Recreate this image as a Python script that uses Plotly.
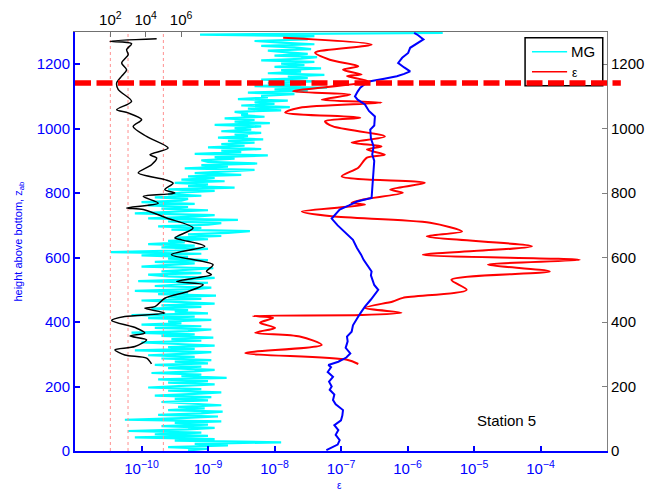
import numpy as np
import plotly.graph_objects as go

# ---------------- data ----------------
# MG profile (log10 values on the epsilon axis), one value every 5 m from the bottom
mg_log10 = [
    -9.3, -9.0, -9.6, -8.7, -9.2, -7.9, -9.5, -8.9, -10.1, -9.0,
    -9.8, -9.1, -10.2, -9.3, -8.9, -9.7, -9.0, -9.5, -8.8, -10.25,
    -9.4, -8.85, -9.75, -9.1, -8.78, -9.6, -9.05, -9.45, -8.8, -9.3,
    -9.7, -9.0, -9.5, -8.95, -9.8, -9.2, -8.8, -9.6, -9.1, -9.9,
    -9.3, -8.9, -9.6, -9.0, -9.75, -8.72, -9.4, -9.1, -9.85, -9.2,
    -8.9, -9.6, -9.1, -9.8, -9.0, -9.5, -8.95, -9.7, -9.2, -9.9,
    -9.3, -8.95, -10.1, -9.2, -9.6, -8.9, -9.45, -10.0, -9.1, -9.55,
    -8.92, -9.7, -9.2, -10.15, -9.3, -8.95, -9.8, -9.1, -10.0, -9.4,
    -9.6, -8.95, -9.9, -9.2, -10.15, -9.0, -9.5, -9.3, -9.85, -9.1,
    -9.7, -8.9, -9.4, -10.0, -9.1, -9.6, -8.88, -9.75, -9.3, -10.1,
    -9.2, -8.95, -9.8, -9.4, -9.0, -10.05, -9.3, -8.9, -9.6, -9.9,
    -9.1, -9.7, -9.3, -8.92, -10.0, -9.5, -9.2, -9.8, -9.0, -9.6,
    -9.3, -10.0, -9.1, -10.46, -9.5, -9.0, -9.7, -9.2, -9.9, -9.35,
    -9.6, -9.0, -9.5, -8.8, -9.3, -8.7, -8.37, -9.55, -9.1, -9.75,
    -9.0, -8.8, -9.6, -8.55, -9.9, -9.2, -8.9, -10.1, -9.4, -9.0,
    -9.7, -9.3, -9.9, -9.2, -10.0, -9.4, -9.3, -9.8, -9.1, -9.6,
    -9.4, -8.9, -9.6, -8.6, -9.3, -9.0, -9.5, -8.75, -9.4, -8.9,
    -9.3, -8.5, -9.2, -8.8, -8.3, -9.35, -8.7, -9.1, -8.26, -9.0,
    -9.1, -8.6, -8.9, -8.1, -9.2, -8.5, -8.8, -8.2, -9.0, -8.45,
    -8.8, -8.3, -8.7, -8.17, -8.85, -8.4, -8.6, -8.2, -8.8, -8.35,
    -8.6, -8.2, -8.9, -8.07, -8.6, -8.3, -8.75, -8.15, -8.5, -8.4,
    -8.6, -7.9, -8.4, -7.77, -8.5, -8.0, -8.3, -7.8, -8.55, -8.1,
    -8.2, -7.7, -8.4, -7.5, -8.0, -7.21, -8.3, -7.6, -8.1, -7.4,
    -8.2, -7.5, -7.8, -7.25, -8.1, -7.6, -7.9, -7.3, -8.0, -7.55,
    -7.9, -7.4, -8.2, -7.6, -7.36, -8.0, -7.5, -7.8, -8.1, -7.45,
    -7.7, -8.2, -7.4, -7.9, -8.3, -7.5, -7.8, -7.4, -9.12, -5.47,
]
mg_step_m = 5

# epsilon profile: (height, log10 epsilon)
eps_height = [1282, 1261, 1236, 1214, 1194, 1183, 1168, 1163, 1147, 1116, 1106, 1090,
              1081, 1065, 1050, 1034, 1023, 1007, 976, 957, 945, 935, 919, 910, 879,
              852, 832, 811, 801, 780, 770, 764, 743, 728, 708, 681, 666, 635, 609,
              593, 578, 557, 531, 500, 475, 464, 444, 429, 422, 419, 413, 398, 382,
              367, 355, 329, 304, 283, 270]
eps_log10 = [-7.87, -6.54, -7.39, -7.17, -6.74, -6.97, -6.69, -6.91, -6.59, -7.72, -6.86,
             -7.29, -6.39, -7.62, -7.84, -6.71, -7.24, -7.12, -6.34, -6.84, -6.39, -6.61,
             -6.34, -6.61, -6.74, -6.99, -5.74, -6.26, -6.07, -6.67, -6.84, -6.64, -7.59,
             -7.14, -5.66, -5.18, -5.71, -4.13, -5.77, -3.41, -4.79, -3.86, -5.34, -5.11,
             -6.07, -6.22, -6.64, -6.09, -6.69, -8.32, -8.02, -8.22, -7.99, -8.29, -7.62,
             -7.29, -8.44, -6.91, -6.74]

# blue profile: (height, log10 value on the epsilon axis)
blue_height = [3, 20, 34, 50, 65, 80, 95, 110, 127, 145, 158, 175, 190, 200, 215, 230, 245,
               260, 267, 277, 290, 303, 320, 340, 355, 370, 390, 405, 417, 430, 448, 470,
               485, 500, 515, 530, 545, 557, 575, 593, 610, 630, 655, 680, 700, 721, 735,
               749, 762, 774, 785, 810, 840, 873, 900, 920, 945, 970, 997, 1010, 1038,
               1055, 1075, 1090, 1100, 1115, 1127, 1140, 1147, 1155, 1163, 1170, 1178,
               1190, 1204, 1220, 1235, 1251, 1265, 1277, 1290, 1297]
blue_log10 = [-7.22, -7.05, -7.02, -7.08, -7.04, -7.10, -7.00, -6.98, -6.97, -7.08, -7.12,
              -7.10, -7.17, -7.14, -7.18, -7.12, -7.20, -7.15, -7.19, -7.04, -6.92, -6.86,
              -6.93, -6.90, -6.91, -6.84, -6.82, -6.78, -6.74, -6.70, -6.64, -6.55, -6.50,
              -6.44, -6.50, -6.52, -6.55, -6.54, -6.60, -6.66, -6.70, -6.76, -6.82, -6.95,
              -7.05, -7.14, -7.08, -7.02, -6.88, -6.76, -6.54, -6.53, -6.52, -6.51, -6.50,
              -6.53, -6.51, -6.55, -6.56, -6.50, -6.49, -6.58, -6.64, -6.75, -6.79, -6.75,
              -6.71, -6.63, -6.56, -6.35, -6.16, -6.05, -5.96, -6.05, -6.14, -6.08, -5.99,
              -5.96, -5.85, -5.76, -5.84, -5.90]

# black profile on the top axis: (height, log10 value)
black_height = [1279, 1271, 1264, 1245, 1230, 1204, 1183, 1163, 1142, 1121, 1085, 1059,
                1049, 1028, 1007, 976, 940, 919, 909, 888, 863, 842, 831, 811, 800, 790,
                769, 754, 749, 723, 692, 661, 655, 635, 609, 578, 557, 547, 526, 516, 495,
                474, 448, 443, 428, 417, 405, 381, 366, 357, 345, 324, 314, 298, 288, 270]
black_log10 = [4.62, 1.98, 3.20, 2.92, 3.01, 2.64, 2.92, 2.64, 2.36, 2.45, 3.20, 2.36,
               3.01, 3.77, 3.29, 4.05, 5.27, 4.24, 4.62, 4.33, 3.58, 5.08, 5.55, 5.08,
               5.65, 3.86, 4.71, 2.92, 3.86, 5.18, 6.68, 5.65, 6.03, 7.34, 5.46, 7.81,
               7.44, 7.72, 5.75, 7.25, 6.40, 5.08, 4.52, 3.95, 5.08, 2.82, 2.07, 3.49,
               3.95, 3.11, 4.05, 3.39, 2.26, 2.82, 4.05, 4.33]

bottom_tick_exp = [-10, -9, -8, -7, -6, -5, -4]
top_tick_exp = [2, 4, 6]
ref_lines_top = [1e2, 1e3, 1e5]
height_ticks = [0, 200, 400, 600, 800, 1000, 1200]
mixed_layer_top = 1142
station_label = "Station 5"
legend_names = ["MG", "ε"]

# ---------------- figure ----------------
FONT = "Liberation Sans, Arial, sans-serif"
BLUE = "#0000ff"
CYAN = "#00ffff"
RED = "#ff0000"

mg_height = [i * mg_step_m + 2 for i in range(len(mg_log10))]

fig = go.Figure()

for v in ref_lines_top:
    fig.add_trace(go.Scatter(x=[v, v], y=[0, 1300], xaxis="x2", yaxis="y", mode="lines",
                             line=dict(color="#ff9090", width=1, dash="dot"),
                             showlegend=False, hoverinfo="skip"))

fig.add_trace(go.Scatter(x=[10 ** v for v in mg_log10], y=mg_height, mode="lines",
                         name=legend_names[0], showlegend=False,
                         line=dict(color=CYAN, width=2.2)))
fig.add_trace(go.Scatter(x=[10 ** v for v in eps_log10], y=eps_height, mode="lines",
                         name=legend_names[1], showlegend=False,
                         line=dict(color=RED, width=2, shape="spline", smoothing=0.8)))
fig.add_trace(go.Scatter(x=[10 ** v for v in black_log10], y=black_height, xaxis="x2",
                         yaxis="y", mode="lines", showlegend=False,
                         line=dict(color="#000000", width=1.5, shape="spline", smoothing=0.8)))
fig.add_trace(go.Scatter(x=[10 ** v for v in blue_log10], y=blue_height, xaxis="x",
                         yaxis="y2", mode="lines", showlegend=False,
                         line=dict(color=BLUE, width=2)))

# legend box drawn by hand (MATLAB style), the dashed line passes over it
fig.add_shape(type="rect", xref="paper", yref="paper", x0=0.846, x1=0.992,
              y0=0.872, y1=0.986, fillcolor="white",
              line=dict(color="black", width=1.5), layer="above")
fig.add_shape(type="line", xref="paper", yref="paper", x0=0.859, x1=0.925,
              y0=0.953, y1=0.953, line=dict(color=CYAN, width=1.5), layer="above")
fig.add_shape(type="line", xref="paper", yref="paper", x0=0.859, x1=0.925,
              y0=0.905, y1=0.905, line=dict(color=RED, width=1.5), layer="above")
fig.add_annotation(text=legend_names[0], xref="paper", yref="paper", x=0.929, y=0.953,
                   xanchor="left", yanchor="middle", showarrow=False,
                   font=dict(family=FONT, size=15, color="black"))
fig.add_annotation(text=legend_names[1], xref="paper", yref="paper", x=0.931, y=0.903,
                   xanchor="left", yanchor="middle", showarrow=False,
                   font=dict(family=FONT, size=12, color="black"))

fig.add_shape(type="line", xref="paper", yref="y", x0=0, x1=1.026,
              y0=mixed_layer_top, y1=mixed_layer_top,
              line=dict(color=RED, width=5.5, dash="16px,5.5px"), layer="above")

fig.add_annotation(text=station_label, xref="paper", yref="y", x=0.812, y=96,
                   xanchor="center", yanchor="middle", showarrow=False,
                   font=dict(family=FONT, size=15, color="black"))
fig.add_annotation(text="height above bottom, z<sub>ab</sub>", xref="paper", yref="paper",
                   x=-0.107, y=0.5, xanchor="center", yanchor="middle", textangle=-90,
                   showarrow=False, font=dict(family=FONT, size=11, color=BLUE))
fig.add_annotation(text="ε", xref="paper", yref="paper", x=0.498, y=-0.0835,
                   xanchor="center", yanchor="middle", showarrow=False,
                   font=dict(family=FONT, size=10, color=BLUE))


def pow_labels(exps):
    return ["10<sup>%s</sup>" % (str(e).replace("-", "\u2212") if e < 0 else str(e))
            for e in exps]


# the page adds an 8 px body margin, so the figure is 8 px smaller than the window
fig.update_layout(
    width=645, height=485,
    margin=dict(l=67, r=46, t=24, b=42),
    paper_bgcolor="white", plot_bgcolor="white",
    font=dict(family=FONT, size=15, color="black"),
    showlegend=False,
    xaxis=dict(type="log", range=[-11, -3], tickvals=[10.0 ** e for e in bottom_tick_exp],
               ticktext=pow_labels(bottom_tick_exp), tickangle=0, automargin=False,
               showline=True, linecolor=BLUE, linewidth=2, ticks="inside", ticklen=5,
               tickcolor=BLUE, tickwidth=1.5, tickfont=dict(color=BLUE, size=15),
               ticklabelstandoff=3, showgrid=False, zeroline=False),
    xaxis2=dict(type="log", range=[0, 30.1], overlaying="x", side="top", anchor="y",
                tickvals=[10.0 ** e for e in top_tick_exp], ticktext=pow_labels(top_tick_exp),
                tickangle=0, automargin=False, showline=True,
                linecolor="#707070", linewidth=1, ticks="inside", ticklen=5,
                tickcolor="#707070", tickfont=dict(color="black", size=15),
                showgrid=False, zeroline=False),
    yaxis=dict(range=[0, 1300], tickvals=height_ticks, showline=True, linecolor=BLUE,
               automargin=False, linewidth=2, ticks="inside", ticklen=5, tickcolor=BLUE,
               tickwidth=1.5, tickfont=dict(color=BLUE, size=15), showgrid=False,
               zeroline=False),
    yaxis2=dict(range=[0, 1300], tickvals=height_ticks, overlaying="y", side="right",
                anchor="x", showline=True, linecolor="#808080", linewidth=1,
                automargin=False, ticks="inside", ticklen=5, tickcolor="#808080",
                tickfont=dict(color="black", size=15), showgrid=False, zeroline=False),
)

fig.write_html("out.html")
